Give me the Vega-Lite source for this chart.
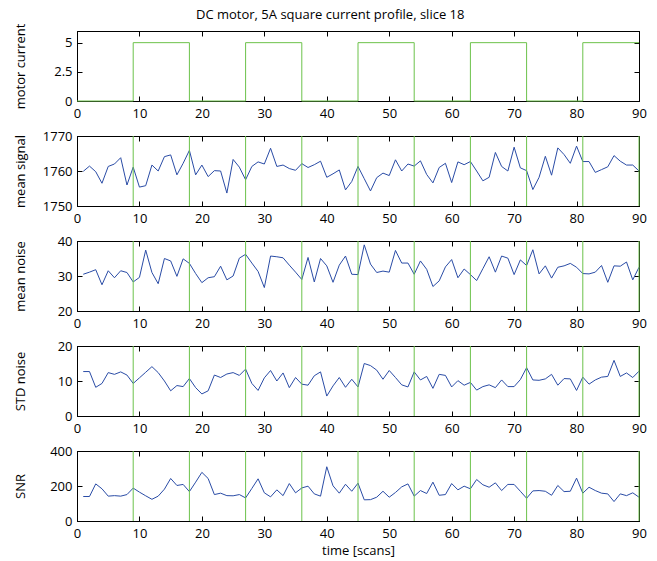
{
  "$schema": "https://vega.github.io/schema/vega-lite/v6.json",
  "autosize": {"type": "pad"},
  "padding": {"left": 13, "top": 8, "right": 5, "bottom": 5},
  "background": "white",
  "title": {"text": "DC motor, 5A square current profile, slice 18", "font": "Open Sans", "fontSize": 13, "fontWeight": "normal", "color": "black", "anchor": "middle", "offset": 1},
  "spacing": 35,
  "bounds": "flush",
  "config": {
    "view": {"stroke": "black", "strokeWidth": 1},
    "axis": {"grid": false, "domainColor": "black", "tickColor": "black", "tickSize": -5, "labelFont": "Open Sans", "labelFontSize": 13, "labelColor": "black", "titleFont": "Open Sans", "titleFontSize": 13, "titleFontWeight": "normal", "titleColor": "black"},
    "axisLeft": {"titleX": -57, "titleBaseline": "middle", "titleAngle": -90, "labelFlush": false, "labelPadding": 10},
    "axisBottom": {"labelFlush": false, "labelPadding": 11}
  },
  "datasets": {
    "current": [
      {"t": 0, "current": 0}, {"t": 9, "current": 5}, {"t": 18, "current": 0}, {"t": 27, "current": 5}, {"t": 36, "current": 0},
      {"t": 45, "current": 5}, {"t": 54, "current": 0}, {"t": 63, "current": 5}, {"t": 72, "current": 0}, {"t": 81, "current": 5}, {"t": 90, "current": 5}
    ],
    "marks": [{"t": 9}, {"t": 18}, {"t": 27}, {"t": 36}, {"t": 45}, {"t": 54}, {"t": 63}, {"t": 72}, {"t": 81}, {"t": 90}],
    "scans": [
      {"t":1,"signal":1759.9,"noise":30.5,"std":12.7,"snr":140},
      {"t":2,"signal":1761.4,"noise":31.1,"std":12.7,"snr":140},
      {"t":3,"signal":1759.8,"noise":31.8,"std":8.2,"snr":212},
      {"t":4,"signal":1756.5,"noise":27.5,"std":9.3,"snr":184},
      {"t":5,"signal":1761.3,"noise":31.5,"std":12.4,"snr":142},
      {"t":6,"signal":1762,"noise":29.5,"std":11.9,"snr":145},
      {"t":7,"signal":1763.8,"noise":31.5,"std":12.6,"snr":142},
      {"t":8,"signal":1756,"noise":31,"std":11.7,"snr":151},
      {"t":9,"signal":1761.1,"noise":28.3,"std":9.3,"snr":188},
      {"t":10,"signal":1755.4,"noise":29.6,"std":10.9,"snr":165},
      {"t":11,"signal":1755.8,"noise":37.4,"std":12.5,"snr":144},
      {"t":12,"signal":1761.7,"noise":31,"std":14.1,"snr":124},
      {"t":13,"signal":1760,"noise":27.8,"std":12.4,"snr":142},
      {"t":14,"signal":1764.1,"noise":35,"std":10,"snr":182},
      {"t":15,"signal":1764.6,"noise":34.3,"std":7.2,"snr":243},
      {"t":16,"signal":1758.9,"noise":29.9,"std":8.7,"snr":203},
      {"t":17,"signal":1762.2,"noise":34.9,"std":8.4,"snr":209},
      {"t":18,"signal":1765.9,"noise":33.6,"std":10.7,"snr":168},
      {"t":19,"signal":1758.9,"noise":30.7,"std":8.1,"snr":222},
      {"t":20,"signal":1761.7,"noise":28.1,"std":6.3,"snr":278},
      {"t":21,"signal":1758.4,"noise":29.5,"std":7.2,"snr":243},
      {"t":22,"signal":1760.1,"noise":29.8,"std":11.7,"snr":151},
      {"t":23,"signal":1760,"noise":32.8,"std":11,"snr":159},
      {"t":24,"signal":1753.7,"noise":28.9,"std":12,"snr":145},
      {"t":25,"signal":1763.3,"noise":30,"std":12.4,"snr":144},
      {"t":26,"signal":1761.1,"noise":35.1,"std":11.6,"snr":151},
      {"t":27,"signal":1757.5,"noise":36.2,"std":13.4,"snr":132},
      {"t":28,"signal":1761.3,"noise":33.7,"std":9.3,"snr":186},
      {"t":29,"signal":1762.6,"noise":31.3,"std":7.3,"snr":241},
      {"t":30,"signal":1762,"noise":26.7,"std":10.9,"snr":161},
      {"t":31,"signal":1766.5,"noise":35.7,"std":13,"snr":138},
      {"t":32,"signal":1761.3,"noise":35.5,"std":10,"snr":178},
      {"t":33,"signal":1761.7,"noise":35.2,"std":12.3,"snr":145},
      {"t":34,"signal":1760.7,"noise":33.1,"std":8.1,"snr":214},
      {"t":35,"signal":1760.2,"noise":31.1,"std":11,"snr":161},
      {"t":36,"signal":1762.1,"noise":29,"std":9.1,"snr":189},
      {"t":37,"signal":1761,"noise":35.3,"std":8.8,"snr":199},
      {"t":38,"signal":1761.8,"noise":28.3,"std":11.5,"snr":155},
      {"t":39,"signal":1762.8,"noise":35,"std":12.6,"snr":142},
      {"t":40,"signal":1758.2,"noise":32.9,"std":5.7,"snr":310},
      {"t":41,"signal":1759.2,"noise":28.2,"std":8.6,"snr":201},
      {"t":42,"signal":1760.3,"noise":33.1,"std":11,"snr":159},
      {"t":43,"signal":1754.6,"noise":35.7,"std":8.2,"snr":210},
      {"t":44,"signal":1757,"noise":30.5,"std":10.5,"snr":170},
      {"t":45,"signal":1761.3,"noise":30.4,"std":8.3,"snr":216},
      {"t":46,"signal":1757.8,"noise":38.9,"std":15,"snr":121},
      {"t":47,"signal":1754.3,"noise":33.4,"std":14.4,"snr":122},
      {"t":48,"signal":1758.1,"noise":31,"std":13.1,"snr":136},
      {"t":49,"signal":1759.4,"noise":31.4,"std":10.5,"snr":170},
      {"t":50,"signal":1758.7,"noise":31.1,"std":13,"snr":136},
      {"t":51,"signal":1763.2,"noise":37.3,"std":11,"snr":163},
      {"t":52,"signal":1760,"noise":33.7,"std":8.9,"snr":195},
      {"t":53,"signal":1762,"noise":33.7,"std":8.3,"snr":212},
      {"t":54,"signal":1761.4,"noise":30.5,"std":12.6,"snr":142},
      {"t":55,"signal":1762.9,"noise":34.3,"std":10.3,"snr":174},
      {"t":56,"signal":1759,"noise":31.9,"std":11.3,"snr":157},
      {"t":57,"signal":1756.6,"noise":27,"std":7.9,"snr":222},
      {"t":58,"signal":1761,"noise":28.6,"std":11.9,"snr":147},
      {"t":59,"signal":1762.2,"noise":32.6,"std":11.6,"snr":151},
      {"t":60,"signal":1756.7,"noise":34.7,"std":8.3,"snr":214},
      {"t":61,"signal":1762.6,"noise":29.5,"std":10.1,"snr":178},
      {"t":62,"signal":1761.8,"noise":32,"std":8.8,"snr":199},
      {"t":63,"signal":1762.7,"noise":30.4,"std":9.6,"snr":184},
      {"t":64,"signal":1760,"noise":28.7,"std":7.4,"snr":237},
      {"t":65,"signal":1757.2,"noise":32.1,"std":8.4,"snr":207},
      {"t":66,"signal":1758.2,"noise":35.5,"std":8.9,"snr":193},
      {"t":67,"signal":1765.3,"noise":31.1,"std":8.1,"snr":218},
      {"t":68,"signal":1761.3,"noise":35.7,"std":10.3,"snr":174},
      {"t":69,"signal":1760,"noise":35.1,"std":8.4,"snr":209},
      {"t":70,"signal":1766.8,"noise":30.4,"std":8.4,"snr":209},
      {"t":71,"signal":1760.9,"noise":34.6,"std":10.4,"snr":170},
      {"t":72,"signal":1760.1,"noise":33,"std":13.8,"snr":130},
      {"t":73,"signal":1754.7,"noise":37.5,"std":10.3,"snr":172},
      {"t":74,"signal":1758.2,"noise":30.6,"std":10.2,"snr":174},
      {"t":75,"signal":1764.2,"noise":32.9,"std":10.6,"snr":170},
      {"t":76,"signal":1758.8,"noise":29.4,"std":11.9,"snr":147},
      {"t":77,"signal":1766.6,"noise":32.5,"std":8.8,"snr":203},
      {"t":78,"signal":1764.7,"noise":32.9,"std":10.7,"snr":168},
      {"t":79,"signal":1762.2,"noise":33.6,"std":10.6,"snr":170},
      {"t":80,"signal":1767.1,"noise":32.5,"std":7.3,"snr":245},
      {"t":81,"signal":1762.7,"noise":30.7,"std":11.1,"snr":159},
      {"t":82,"signal":1762.7,"noise":30.6,"std":9.1,"snr":193},
      {"t":83,"signal":1759.6,"noise":31.1,"std":10.3,"snr":174},
      {"t":84,"signal":1760.4,"noise":33,"std":11.1,"snr":159},
      {"t":85,"signal":1761.2,"noise":28.2,"std":11.3,"snr":155},
      {"t":86,"signal":1764.4,"noise":32.9,"std":15.9,"snr":111},
      {"t":87,"signal":1762.8,"noise":32.8,"std":11.3,"snr":155},
      {"t":88,"signal":1761.7,"noise":34,"std":12.3,"snr":145},
      {"t":89,"signal":1761.7,"noise":28.9,"std":11,"snr":161},
      {"t":90,"signal":1760,"noise":32.5,"std":12.8,"snr":136}
    ]
  },
  "vconcat": [
    {
      "width": 562, "height": 70,
      "layer": [
        {"data": {"name": "current"}, "mark": {"type": "line", "interpolate": "step-after", "color": "#6cc24a", "strokeWidth": 1},
         "encoding": {
           "x": {"field": "t", "type": "quantitative", "scale": {"domain": [0, 90], "nice": false}, "axis": {"orient": "bottom", "values": [0,10,20,30,40,50,60,70,80,90], "format": "d", "title": null}},
           "y": {"field": "current", "type": "quantitative", "scale": {"domain": [0, 6], "nice": false}, "axis": {"orient": "left", "values": [0, 2.5, 5], "format": ".1~f", "title": "motor current"}}}},
        {"data": {"name": "current"}, "mark": {"type": "line", "strokeOpacity": 0},
         "encoding": {
           "x": {"field": "t", "type": "quantitative", "scale": {"domain": [0, 90], "nice": false}, "axis": {"orient": "top", "values": [0,10,20,30,40,50,60,70,80,90], "labels": false, "title": null}},
           "y": {"field": "current", "type": "quantitative", "scale": {"domain": [0, 6], "nice": false}, "axis": {"orient": "right", "values": [0, 2.5, 5], "labels": false, "title": null}}}}
      ],
      "resolve": {"axis": {"x": "independent", "y": "independent"}}
    },
    {
      "width": 562, "height": 70,
      "layer": [
        {"data": {"name": "scans"}, "mark": {"type": "line", "color": "#2a4ca6", "strokeWidth": 1},
         "encoding": {
           "x": {"field": "t", "type": "quantitative", "scale": {"domain": [0, 90], "nice": false}, "axis": {"orient": "bottom", "values": [0,10,20,30,40,50,60,70,80,90], "format": "d", "title": null}},
           "y": {"field": "signal", "type": "quantitative", "scale": {"domain": [1750, 1770], "nice": false, "zero": false}, "axis": {"orient": "left", "values": [1750, 1760, 1770], "format": "d", "title": "mean signal"}}}},
        {"data": {"name": "scans"}, "mark": {"type": "line", "strokeOpacity": 0},
         "encoding": {
           "x": {"field": "t", "type": "quantitative", "scale": {"domain": [0, 90], "nice": false}, "axis": {"orient": "top", "values": [0,10,20,30,40,50,60,70,80,90], "labels": false, "title": null}},
           "y": {"field": "signal", "type": "quantitative", "scale": {"domain": [1750, 1770], "nice": false, "zero": false}, "axis": {"orient": "right", "values": [1750, 1760, 1770], "labels": false, "title": null}}}},
        {"data": {"name": "marks"}, "mark": {"type": "rule", "color": "#6cc24a", "strokeWidth": 1},
         "encoding": {"x": {"field": "t", "type": "quantitative", "scale": {"domain": [0, 90], "nice": false}, "axis": null}}}
      ],
      "resolve": {"axis": {"x": "independent", "y": "independent"}}
    },
    {
      "width": 562, "height": 70,
      "layer": [
        {"data": {"name": "scans"}, "mark": {"type": "line", "color": "#2a4ca6", "strokeWidth": 1},
         "encoding": {
           "x": {"field": "t", "type": "quantitative", "scale": {"domain": [0, 90], "nice": false}, "axis": {"orient": "bottom", "values": [0,10,20,30,40,50,60,70,80,90], "format": "d", "title": null}},
           "y": {"field": "noise", "type": "quantitative", "scale": {"domain": [20, 40], "nice": false, "zero": false}, "axis": {"orient": "left", "values": [20, 30, 40], "format": "d", "title": "mean noise"}}}},
        {"data": {"name": "scans"}, "mark": {"type": "line", "strokeOpacity": 0},
         "encoding": {
           "x": {"field": "t", "type": "quantitative", "scale": {"domain": [0, 90], "nice": false}, "axis": {"orient": "top", "values": [0,10,20,30,40,50,60,70,80,90], "labels": false, "title": null}},
           "y": {"field": "noise", "type": "quantitative", "scale": {"domain": [20, 40], "nice": false, "zero": false}, "axis": {"orient": "right", "values": [20, 30, 40], "labels": false, "title": null}}}},
        {"data": {"name": "marks"}, "mark": {"type": "rule", "color": "#6cc24a", "strokeWidth": 1},
         "encoding": {"x": {"field": "t", "type": "quantitative", "scale": {"domain": [0, 90], "nice": false}, "axis": null}}}
      ],
      "resolve": {"axis": {"x": "independent", "y": "independent"}}
    },
    {
      "width": 562, "height": 70,
      "layer": [
        {"data": {"name": "scans"}, "mark": {"type": "line", "color": "#2a4ca6", "strokeWidth": 1},
         "encoding": {
           "x": {"field": "t", "type": "quantitative", "scale": {"domain": [0, 90], "nice": false}, "axis": {"orient": "bottom", "values": [0,10,20,30,40,50,60,70,80,90], "format": "d", "title": null}},
           "y": {"field": "std", "type": "quantitative", "scale": {"domain": [0, 20], "nice": false}, "axis": {"orient": "left", "values": [0, 10, 20], "format": "d", "title": "STD noise"}}}},
        {"data": {"name": "scans"}, "mark": {"type": "line", "strokeOpacity": 0},
         "encoding": {
           "x": {"field": "t", "type": "quantitative", "scale": {"domain": [0, 90], "nice": false}, "axis": {"orient": "top", "values": [0,10,20,30,40,50,60,70,80,90], "labels": false, "title": null}},
           "y": {"field": "std", "type": "quantitative", "scale": {"domain": [0, 20], "nice": false}, "axis": {"orient": "right", "values": [0, 10, 20], "labels": false, "title": null}}}},
        {"data": {"name": "marks"}, "mark": {"type": "rule", "color": "#6cc24a", "strokeWidth": 1},
         "encoding": {"x": {"field": "t", "type": "quantitative", "scale": {"domain": [0, 90], "nice": false}, "axis": null}}}
      ],
      "resolve": {"axis": {"x": "independent", "y": "independent"}}
    },
    {
      "width": 562, "height": 70,
      "layer": [
        {"data": {"name": "scans"}, "mark": {"type": "line", "color": "#2a4ca6", "strokeWidth": 1},
         "encoding": {
           "x": {"field": "t", "type": "quantitative", "scale": {"domain": [0, 90], "nice": false}, "axis": {"orient": "bottom", "values": [0,10,20,30,40,50,60,70,80,90], "format": "d", "title": "time [scans]", "titleY": 29, "titleBaseline": "middle"}},
           "y": {"field": "snr", "type": "quantitative", "scale": {"domain": [0, 400], "nice": false}, "axis": {"orient": "left", "values": [0, 200, 400], "format": "d", "title": "SNR"}}}},
        {"data": {"name": "scans"}, "mark": {"type": "line", "strokeOpacity": 0},
         "encoding": {
           "x": {"field": "t", "type": "quantitative", "scale": {"domain": [0, 90], "nice": false}, "axis": {"orient": "top", "values": [0,10,20,30,40,50,60,70,80,90], "labels": false, "title": null}},
           "y": {"field": "snr", "type": "quantitative", "scale": {"domain": [0, 400], "nice": false}, "axis": {"orient": "right", "values": [0, 200, 400], "labels": false, "title": null}}}},
        {"data": {"name": "marks"}, "mark": {"type": "rule", "color": "#6cc24a", "strokeWidth": 1},
         "encoding": {"x": {"field": "t", "type": "quantitative", "scale": {"domain": [0, 90], "nice": false}, "axis": null}}}
      ],
      "resolve": {"axis": {"x": "independent", "y": "independent"}}
    }
  ]
}
